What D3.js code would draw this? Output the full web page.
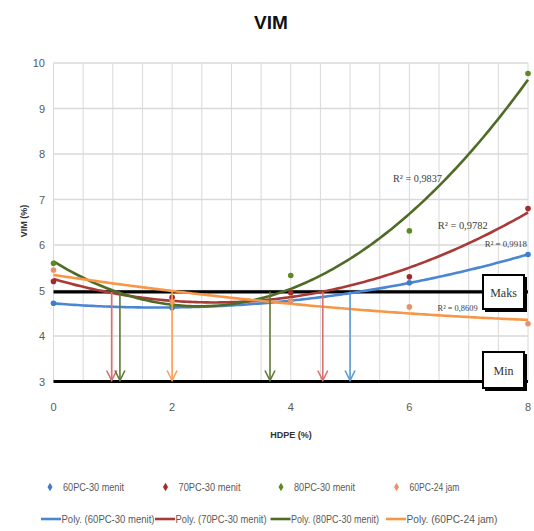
<!DOCTYPE html>
<html><head><meta charset="utf-8">
<script src="https://cdn.jsdelivr.net/npm/d3@7"></script>
<style>
html,body{margin:0;padding:0;background:#fff;}
svg{display:block;}
</style></head>
<body>
<svg id="c" width="534" height="531"></svg>
<script>
// ---- data ----
const hdpe = [0, 2, 4, 6, 8];
const seriesNames = ["60PC-30 menit", "70PC-30 menit", "80PC-30 menit", "60PC-24 jam"];
const vim60_30 = [4.72, 4.62, 4.78, 5.17, 5.79];
const vim70_30 = [5.20, 4.85, 4.95, 5.30, 6.80];
const vim80_30 = [5.60, 4.67, 5.33, 6.31, 9.77];
const vim60_24 = [5.45, 4.75, 4.78, 4.64, 4.27];
const r2Labels = ["R² = 0,9918", "R² = 0,9782", "R² = 0,9837", "R² = 0,8609"];
const r2LabelPos = [[7.98, 5.95], [7.32, 6.36], [6.55, 7.38], [7.15, 4.56]];
const limitNames = ["Maks", "Min"];
const limitValues = [4.97, 3.0];
const arrowX = [0.98, 1.12, 2.0, 3.65, 4.54, 5.0];
const arrowSeries = [1, 2, 3, 2, 1, 0];
const xTicks = [0, 2, 4, 6, 8];
const yTicks = [3, 4, 5, 6, 7, 8, 9, 10];

const allVals = [vim60_30, vim70_30, vim80_30, vim60_24];
const lineColors = ["#4A86D4", "#A83A37", "#4F6B26", "#F79646"];
const markColors = ["#3F7CC9", "#A12A2A", "#5E8A24", "#E9916A"];
const arrowColors = ["#5B9BD5", "#D9716F", "#5E7A33", "#F9A05A"];

const svg = d3.select("#c");
const x = d3.scaleLinear().domain([0, 8]).range([53.5, 528]);
const y = d3.scaleLinear().domain([3, 10]).range([381.5, 63]);
const narrow = "Liberation Sans, Arial, sans-serif";

// quadratic least squares (Excel-style polynomial trendline, order 2)
function quadFit(xs, ys) {
  let n = xs.length, S = [0,0,0,0,0], T = [0,0,0];
  for (let i = 0; i < n; i++) {
    let p = 1;
    for (let k = 0; k < 5; k++) { S[k] += p; p *= xs[i]; }
    p = 1;
    for (let k = 0; k < 3; k++) { T[k] += p * ys[i]; p *= xs[i]; }
  }
  const M = [[S[0],S[1],S[2],T[0]],[S[1],S[2],S[3],T[1]],[S[2],S[3],S[4],T[2]]];
  for (let i = 0; i < 3; i++) {
    for (let j = i+1; j < 3; j++) {
      const f = M[j][i] / M[i][i];
      for (let k = i; k < 4; k++) M[j][k] -= f * M[i][k];
    }
  }
  const c = [0,0,0];
  for (let i = 2; i >= 0; i--) {
    let s = M[i][3];
    for (let k = i+1; k < 3; k++) s -= M[i][k] * c[k];
    c[i] = s / M[i][i];
  }
  return xv => c[0] + c[1]*xv + c[2]*xv*xv;
}

// grid
const g = svg.append("g");
g.selectAll(".vg").data(d3.range(0, 8.01, 0.5)).join("line")
  .attr("x1", d => x(d)).attr("x2", d => x(d))
  .attr("y1", y(10)).attr("y2", y(3))
  .attr("stroke", "#d9d9d9").attr("stroke-width", 1);
g.selectAll(".hg").data(yTicks).join("line")
  .attr("x1", x(0)).attr("x2", x(8))
  .attr("y1", d => y(d)).attr("y2", d => y(d))
  .attr("stroke", "#d9d9d9").attr("stroke-width", 1.3);

// tick labels
g.selectAll(".yt").data(yTicks).join("text")
  .attr("x", 45).attr("y", d => y(d) + 4)
  .attr("text-anchor", "end").attr("font-family", narrow)
  .attr("font-size", 11).attr("fill", "#595959").text(d => d);
g.selectAll(".xt").data(xTicks).join("text")
  .attr("x", d => x(d)).attr("y", 411)
  .attr("text-anchor", "middle").attr("font-family", narrow)
  .attr("font-size", 11).attr("fill", "#595959").text(d => d);

// axis titles
svg.append("text").attr("x", 271).attr("y", 29).attr("text-anchor", "middle")
  .attr("font-family", narrow).attr("font-weight", "bold")
  .attr("font-size", 19).attr("fill", "#111").text("VIM");
svg.append("text").attr("x", 291).attr("y", 438).attr("text-anchor", "middle")
  .attr("font-family", narrow).attr("font-weight", "bold")
  .attr("font-size", 9).attr("fill", "#333").text("HDPE (%)");
svg.append("text").attr("transform", "translate(27,221) rotate(-90)").attr("text-anchor", "middle")
  .attr("font-family", narrow).attr("font-weight", "bold")
  .attr("font-size", 9).attr("fill", "#333").text("VIM (%)");

// limit lines
g.selectAll(".lim").data(limitValues).join("line")
  .attr("x1", x(0)).attr("x2", x(8))
  .attr("y1", d => y(d)).attr("y2", d => y(d))
  .attr("stroke", "#000").attr("stroke-width", 3.2);

// trend lines
const xsFine = d3.range(0, 8.001, 0.05);
const fits = allVals.map(v => quadFit(hdpe, v));
const line = d3.line().x(d => x(d[0])).y(d => y(d[1]));
fits.forEach((f, i) => {
  svg.append("path").datum(xsFine.map(xv => [xv, f(xv)]))
    .attr("d", line).attr("fill", "none")
    .attr("stroke", lineColors[i]).attr("stroke-width", 2.6);
});

// points
allVals.forEach((v, i) => {
  svg.selectAll(".p" + i).data(v).join("circle")
    .attr("cx", (d, j) => x(hdpe[j])).attr("cy", d => y(d)).attr("r", 2.8)
    .attr("fill", markColors[i]);
});

// arrows
const topY = limitValues[0], botY = limitValues[1];
arrowX.forEach((ax, k) => {
  const col = arrowColors[arrowSeries[k]];
  const ga = svg.append("g");
  ga.append("line").attr("x1", x(ax)).attr("x2", x(ax))
    .attr("y1", y(topY)).attr("y2", y(botY) - 1)
    .attr("stroke", col).attr("stroke-width", 1.6);
  ga.append("path")
    .attr("d", `M${x(ax)-5},${y(botY)-11} L${x(ax)},${y(botY)-1} L${x(ax)+5},${y(botY)-11}`)
    .attr("fill", "none").attr("stroke", col).attr("stroke-width", 1.6);
});

// R2 labels
const r2Len = [42, 50, 49, 40];
r2Labels.forEach((t, i) => {
  svg.append("text").attr("x", x(r2LabelPos[i][0]) - r2Len[i]).attr("y", y(r2LabelPos[i][1]))
    .attr("font-family", "Liberation Serif, Times New Roman, serif")
    .attr("textLength", r2Len[i]).attr("lengthAdjust", "spacingAndGlyphs")
    .attr("font-size", i === 0 || i === 3 ? 9 : 10.5).attr("fill", "#404040").text(t);
});

// limit boxes
const boxY = [[275, 310], [352, 389]];
limitNames.forEach((nm, i) => {
  const gb = svg.append("g");
  gb.append("rect").attr("x", 485).attr("y", boxY[i][0] + 2).attr("width", 42).attr("height", boxY[i][1] - boxY[i][0])
    .attr("fill", "#000");
  gb.append("rect").attr("x", 483).attr("y", boxY[i][0]).attr("width", 41).attr("height", boxY[i][1] - boxY[i][0] - 1)
    .attr("fill", "#fff").attr("stroke", "#000").attr("stroke-width", 2);
  gb.append("text").attr("x", 503.5).attr("y", (boxY[i][0] + boxY[i][1]) / 2 + 4)
    .attr("text-anchor", "middle").attr("font-family", "Liberation Serif, Times New Roman, serif")
    .attr("font-size", 12).attr("fill", "#333").text(nm);
});

// legend
const leg1X = [50, 165.5, 281, 396.5];
const leg1Len = [61, 62, 61, 50];
seriesNames.forEach((nm, i) => {
  svg.append("path").attr("d", d3.symbol(d3.symbolDiamond, 22)())
    .attr("transform", `translate(${leg1X[i]},487)`).attr("fill", markColors[i]);
  svg.append("text").attr("x", leg1X[i] + 13).attr("y", 490.5)
    .attr("font-family", narrow).attr("textLength", leg1Len[i]).attr("lengthAdjust", "spacingAndGlyphs")
    .attr("font-size", 10.5).attr("fill", "#595959").text(nm);
});
const leg2X = [41, 155, 270.5, 386];
const leg2Len = [93, 91, 88, 91];
seriesNames.forEach((nm, i) => {
  svg.append("line").attr("x1", leg2X[i]).attr("x2", leg2X[i] + 20).attr("y1", 519).attr("y2", 519)
    .attr("stroke", lineColors[i]).attr("stroke-width", 2.6);
  svg.append("text").attr("x", leg2X[i] + 20.5).attr("y", 523)
    .attr("font-family", narrow).attr("textLength", leg2Len[i]).attr("lengthAdjust", "spacingAndGlyphs")
    .attr("font-size", 10.5).attr("fill", "#595959").text("Poly. (" + nm + ")");
});
</script>
</body></html>
